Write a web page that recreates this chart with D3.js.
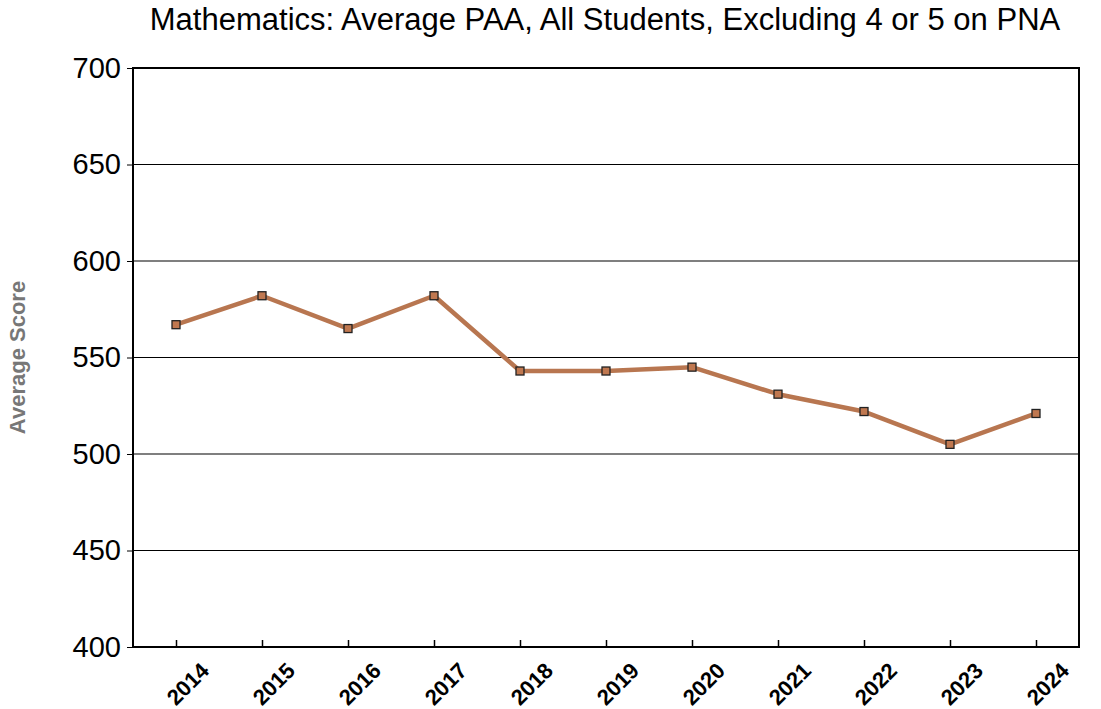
<!doctype html>
<html lang="en">
<head>
<meta charset="UTF-8">
<title>Mathematics: Average PAA</title>
<script src="https://cdn.jsdelivr.net/npm/d3@7"></script>
<style>
  body { margin: 0; background: #fff; font-family: "Liberation Sans", Arial, sans-serif; }
  svg { display: block; }
</style>
</head>
<body>
<div id="chart"></div>
<script>
// data
const years = ["2014", "2015", "2016", "2017", "2018", "2019", "2020", "2021", "2022", "2023", "2024"];
const scores = [567, 582, 565, 582, 543, 543, 545, 531, 522, 505, 521];
const yTicks = [400, 450, 500, 550, 600, 650, 700];

const W = 1101, H = 709;
const margin = { top: 68, right: 22, bottom: 62, left: 133 };
const iw = W - margin.left - margin.right,
      ih = H - margin.top - margin.bottom;

const svg = d3.select("#chart").append("svg")
    .attr("width", W).attr("height", H);

// title
svg.append("text")
    .attr("x", 605).attr("y", 30)
    .attr("text-anchor", "middle")
    .style("font-size", "31px")
    .text("Mathematics: Average PAA, All Students, Excluding 4 or 5 on PNA");

const g = svg.append("g").attr("transform", `translate(${margin.left},${margin.top})`);

const x = d3.scalePoint().domain(years).range([0, iw]).padding(0.5);
const y = d3.scaleLinear().domain([400, 700]).range([ih, 0]);

// grid lines
g.selectAll(".grid").data(yTicks.slice(1, -1)).enter()
    .append("line")
    .attr("x1", 0).attr("x2", iw)
    .attr("y1", d => y(d)).attr("y2", d => y(d))
    .attr("stroke", "#000").attr("stroke-width", 1.2);

// y axis
const yAxis = g.append("g")
    .call(d3.axisLeft(y).tickValues(yTicks).tickSize(6).tickPadding(6));
yAxis.select(".domain").remove();
yAxis.selectAll("text")
    .style("font-size", "29px")
    .style("font-family", "'Liberation Sans', Arial, sans-serif")
    .attr("fill", "#000");

// x axis, ticks pointing into the plot
const xAxis = g.append("g").attr("transform", `translate(0,${ih})`)
    .call(d3.axisBottom(x).tickSize(-7));
xAxis.select(".domain").remove();
xAxis.selectAll("line").attr("stroke-width", 1.5);
xAxis.selectAll("text")
    .style("font-size", "22px")
    .style("font-weight", "bold")
    .style("font-family", "'Liberation Sans', Arial, sans-serif")
    .attr("fill", "#000")
    .attr("text-anchor", "end")
    .attr("x", 0).attr("y", 0).attr("dy", 0)
    .attr("transform", "translate(34,25) rotate(-45)");

// plot frame
g.append("rect")
    .attr("x", 0).attr("y", 0).attr("width", iw).attr("height", ih)
    .attr("fill", "none").attr("stroke", "#000").attr("stroke-width", 2);

// y axis title
svg.append("text")
    .attr("transform", `translate(25,${margin.top + ih / 2}) rotate(-90)`)
    .attr("text-anchor", "middle")
    .style("font-size", "22px")
    .style("font-weight", "bold")
    .attr("fill", "#777")
    .text("Average Score");

// line
const line = d3.line().x((d, i) => x(years[i])).y(d => y(d));
g.append("path")
    .datum(scores)
    .attr("d", line)
    .attr("fill", "none")
    .attr("stroke", "#b87650")
    .attr("stroke-width", 4.5)
    .attr("stroke-linejoin", "round");

// markers
g.selectAll(".pt").data(scores).enter()
    .append("rect")
    .attr("x", (d, i) => x(years[i]) - 4)
    .attr("y", d => y(d) - 4)
    .attr("width", 8).attr("height", 8)
    .attr("fill", "#c07850")
    .attr("stroke", "#222").attr("stroke-width", 1.3);
</script>
</body>
</html>
